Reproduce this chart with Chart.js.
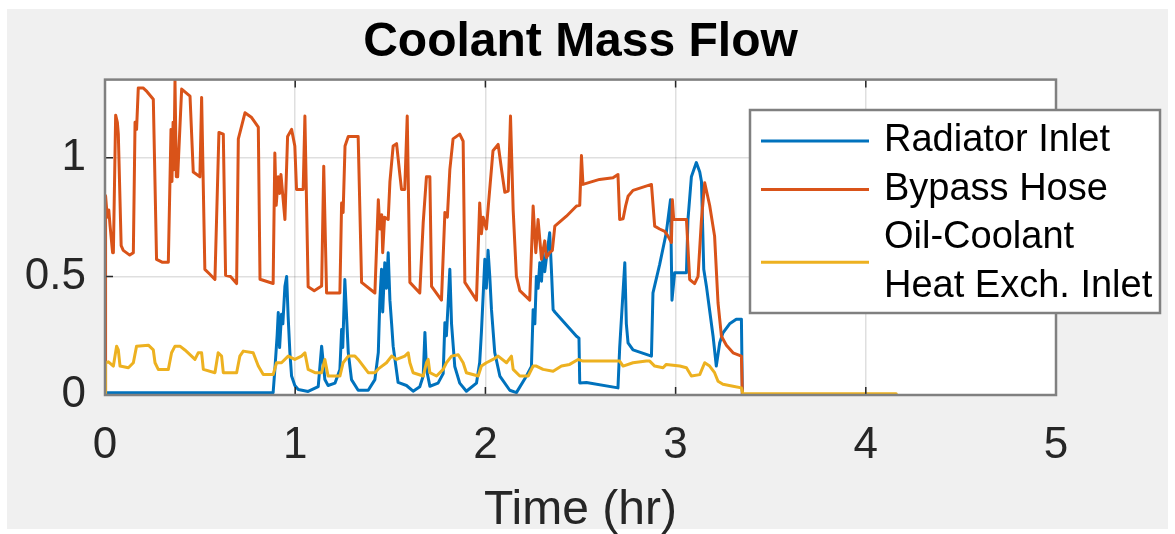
<!DOCTYPE html>
<html>
<head>
<meta charset="utf-8">
<title>Coolant Mass Flow</title>
<script src="https://cdn.jsdelivr.net/npm/chart.js@4.4.0/dist/chart.umd.min.js"></script>
<style>
  html, body { margin: 0; padding: 0; background: #fff; }
  #wrap { position: absolute; left: 0; top: 0; width: 1175px; height: 534px; }
</style>
</head>
<body>
<div id="wrap"><canvas id="flowChart"></canvas></div>
<script>
// series names (last one wraps over two lines in the legend)
const seriesNames = ['Radiator Inlet', 'Bypass Hose', 'Oil-Coolant\nHeat Exch. Inlet'];
const seriesColors = ['#0072BD', '#D95319', '#EDB120'];

// axis ticks
const xTicks = [0, 1, 2, 3, 4, 5];
const yTicks = [0, 0.5, 1];

// Radiator Inlet (time in hr, flow)
const radiatorTime = [0, 0.884, 0.893, 0.905, 0.911, 0.918, 0.928, 0.935, 0.946, 0.955, 0.963, 0.972, 0.981, 0.998, 1.016, 1.068,
  1.121, 1.139, 1.156, 1.173, 1.209, 1.235, 1.244, 1.25, 1.261, 1.279, 1.296, 1.331, 1.384, 1.419, 1.437, 1.445, 1.454, 1.46,
  1.471, 1.48, 1.489, 1.498, 1.507, 1.515, 1.541, 1.585, 1.62, 1.655, 1.673, 1.682, 1.69, 1.708, 1.751, 1.778, 1.787, 1.795,
  1.805, 1.813, 1.822, 1.839, 1.865, 1.9, 1.953, 1.97, 1.979, 1.99, 1.997, 2.005, 2.014, 2.023, 2.032, 2.049, 2.076, 2.128,
  2.163, 2.216, 2.242, 2.251, 2.26, 2.268, 2.277, 2.286, 2.295, 2.303, 2.312, 2.321, 2.338, 2.347, 2.356, 2.365, 2.479, 2.492,
  2.496, 2.531, 2.697, 2.706, 2.733, 2.741, 2.75, 2.776, 2.873, 2.881, 2.916, 2.951, 2.973, 2.981, 2.995, 3.057, 3.065, 3.083,
  3.109, 3.127, 3.136, 3.148, 3.162, 3.197, 3.214, 3.232, 3.249, 3.284, 3.319, 3.346, 3.351, 4.16];
const radiatorFlow = [0.01, 0.01, 0.107, 0.25, 0.348, 0.2, 0.34, 0.3, 0.459, 0.5, 0.33, 0.18, 0.08, 0.04, 0.023, 0.015,
  0.035, 0.206, 0.065, 0.04, 0.05, 0.107, 0.276, 0.2, 0.487, 0.18, 0.065, 0.02, 0.02, 0.065, 0.18, 0.4, 0.53, 0.35,
  0.558, 0.45, 0.6, 0.4, 0.3, 0.206, 0.053, 0.04, 0.016, 0.035, 0.08, 0.264, 0.11, 0.037, 0.05, 0.09, 0.305, 0.25,
  0.4, 0.53, 0.3, 0.12, 0.05, 0.016, 0.05, 0.137, 0.264, 0.45, 0.572, 0.45, 0.61, 0.5, 0.36, 0.18, 0.08, 0.02,
  0.01, 0.08, 0.12, 0.36, 0.3, 0.5, 0.45, 0.558, 0.48, 0.6, 0.52, 0.58, 0.684, 0.53, 0.36, 0.35, 0.248, 0.24,
  0.051, 0.053, 0.03, 0.2, 0.558, 0.3, 0.22, 0.19, 0.164, 0.431, 0.55, 0.684, 0.823, 0.4, 0.516, 0.516, 0.74, 0.92,
  0.98, 0.94, 0.9, 0.53, 0.459, 0.248, 0.122, 0.22, 0.262, 0.3, 0.319, 0.319, 0, 0];

// Bypass Hose
const bypassTime = [0, 0.003, 0.012, 0.02, 0.026, 0.04, 0.044, 0.056, 0.065, 0.07, 0.085, 0.096, 0.13, 0.149, 0.158, 0.166,
  0.175, 0.2, 0.22, 0.254, 0.271, 0.3, 0.333, 0.347, 0.352, 0.358, 0.362, 0.368, 0.375, 0.382, 0.403, 0.447, 0.464, 0.499,
  0.508, 0.525, 0.55, 0.578, 0.599, 0.622, 0.634, 0.66, 0.692, 0.701, 0.736, 0.771, 0.806, 0.815, 0.884, 0.893, 0.9, 0.911,
  0.918, 0.925, 0.946, 0.96, 0.981, 0.998, 1.007, 1.042, 1.051, 1.068, 1.1, 1.139, 1.15, 1.165, 1.235, 1.244, 1.252, 1.262,
  1.279, 1.331, 1.349, 1.419, 1.437, 1.445, 1.455, 1.46, 1.47, 1.489, 1.498, 1.515, 1.533, 1.55, 1.559, 1.576, 1.589, 1.603,
  1.655, 1.673, 1.69, 1.708, 1.717, 1.769, 1.787, 1.8, 1.813, 1.83, 1.865, 1.883, 1.892, 1.953, 1.97, 1.979, 1.988, 2.005,
  2.04, 2.067, 2.085, 2.102, 2.12, 2.132, 2.146, 2.163, 2.181, 2.233, 2.251, 2.265, 2.277, 2.295, 2.312, 2.321, 2.338, 2.352,
  2.365, 2.426, 2.479, 2.496, 2.505, 2.513, 2.6, 2.671, 2.697, 2.706, 2.724, 2.738, 2.75, 2.776, 2.873, 2.89, 2.916, 2.943,
  2.96, 2.978, 2.983, 2.99, 3.057, 3.074, 3.1, 3.118, 3.136, 3.153, 3.179, 3.205, 3.223, 3.241, 3.267, 3.302, 3.346, 3.351, 4.16];
const bypassFlow = [0, 0.84, 0.75, 0.78, 0.72, 0.6, 0.6, 1.18, 1.15, 1.1, 0.63, 0.61, 0.59, 0.6, 1.15, 1.12,
  1.295, 1.295, 1.28, 1.247, 0.572, 0.56, 0.56, 1.12, 0.9, 1.15, 0.95, 1.325, 0.92, 0.92, 1.29, 1.26, 0.94, 0.92,
  1.255, 0.53, 0.51, 0.487, 1.107, 1.1, 0.505, 0.5, 0.47, 1.08, 1.19, 1.17, 1.13, 0.488, 0.47, 1.02, 0.8, 0.92,
  0.85, 0.93, 0.74, 1.09, 1.12, 1.05, 0.867, 0.867, 1.176, 0.457, 0.44, 0.46, 0.965, 0.43, 0.43, 0.81, 0.77, 1.05,
  1.09, 1.09, 0.475, 0.43, 0.823, 0.7, 0.76, 0.6, 0.75, 0.74, 0.9, 1.05, 1.06, 0.93, 0.867, 0.867, 1.176, 0.475,
  0.43, 0.727, 0.92, 0.92, 0.458, 0.4, 0.77, 0.75, 0.95, 1.08, 1.1, 1.07, 0.475, 0.4, 0.81, 0.68, 0.75, 0.7,
  1.03, 1.057, 0.95, 0.855, 0.86, 1.176, 0.78, 0.5, 0.44, 0.4, 0.797, 0.6, 0.74, 0.572, 0.65, 0.58, 0.6, 0.61,
  0.712, 0.754, 0.797, 0.8, 1.01, 0.888, 0.909, 0.916, 0.93, 0.74, 0.743, 0.8, 0.838, 0.863, 0.888, 0.712, 0.7, 0.69,
  0.67, 0.643, 0.823, 0.74, 0.74, 0.487, 0.47, 0.5, 0.74, 0.895, 0.8, 0.67, 0.389, 0.248, 0.21, 0.178, 0.164, 0, 0];

// Oil-Coolant Heat Exch. Inlet
const oilTime = [0, 0.003, 0.018, 0.044, 0.061, 0.07, 0.079, 0.123, 0.149, 0.166, 0.228, 0.254, 0.263, 0.28, 0.333, 0.35,
  0.368, 0.394, 0.42, 0.455, 0.473, 0.49, 0.508, 0.517, 0.578, 0.595, 0.613, 0.622, 0.692, 0.709, 0.727, 0.779, 0.806, 0.832,
  0.884, 0.902, 0.928, 0.963, 0.998, 1.033, 1.051, 1.068, 1.104, 1.139, 1.156, 1.173, 1.235, 1.252, 1.279, 1.314, 1.331, 1.384,
  1.419, 1.437, 1.48, 1.507, 1.533, 1.576, 1.594, 1.603, 1.62, 1.673, 1.69, 1.699, 1.708, 1.743, 1.778, 1.795, 1.822, 1.857,
  1.883, 1.9, 1.962, 1.979, 2.005, 2.04, 2.067, 2.111, 2.137, 2.146, 2.181, 2.225, 2.251, 2.268, 2.303, 2.356, 2.4, 2.443,
  2.487, 2.513, 2.706, 2.724, 2.776, 2.846, 2.864, 2.89, 2.934, 2.951, 3.022, 3.057, 3.083, 3.127, 3.153, 3.179, 3.205, 3.223,
  3.249, 3.302, 3.346, 3.354, 4.16];
const oilFlow = [0, 0.136, 0.14, 0.122, 0.206, 0.19, 0.122, 0.115, 0.136, 0.206, 0.21, 0.19, 0.136, 0.108, 0.108, 0.178,
  0.206, 0.206, 0.19, 0.164, 0.15, 0.178, 0.178, 0.108, 0.094, 0.178, 0.164, 0.094, 0.094, 0.164, 0.185, 0.178, 0.122, 0.086,
  0.086, 0.136, 0.136, 0.164, 0.15, 0.164, 0.178, 0.108, 0.094, 0.094, 0.15, 0.08, 0.08, 0.136, 0.164, 0.164, 0.15, 0.094,
  0.094, 0.11, 0.136, 0.164, 0.15, 0.164, 0.178, 0.136, 0.094, 0.08, 0.136, 0.15, 0.094, 0.08, 0.108, 0.136, 0.164, 0.17,
  0.136, 0.094, 0.08, 0.122, 0.136, 0.15, 0.164, 0.136, 0.164, 0.108, 0.08, 0.08, 0.122, 0.122, 0.108, 0.1, 0.122, 0.129,
  0.15, 0.143, 0.143, 0.122, 0.136, 0.143, 0.143, 0.122, 0.115, 0.129, 0.122, 0.115, 0.08, 0.086, 0.136, 0.122, 0.094, 0.058,
  0.045, 0.037, 0.03, 0.005, 0.005];

function toPoints(times, values) {
    return times.map((t, i) => ({ x: t, y: values[i] }));
}

const axisColor = '#262626';
const fontFamily = '"Liberation Sans", Arial, Helvetica, sans-serif';

// gray figure background, white axes, box with inward ticks, legend
const matlabFrame = {
    id: 'matlabFrame',
    beforeDraw(chart) {
        const ctx = chart.ctx;
        const a = chart.chartArea;
        ctx.save();
        ctx.fillStyle = '#ffffff';
        ctx.fillRect(0, 0, chart.width, chart.height);
        ctx.fillStyle = '#f0f0f0';
        ctx.fillRect(7, 9, chart.width - 14, chart.height - 14);
        ctx.fillStyle = '#ffffff';
        ctx.fillRect(a.left, a.top, a.right - a.left, a.bottom - a.top);
        ctx.restore();
    },
    afterDatasetsDraw(chart) {
        const ctx = chart.ctx;
        const a = chart.chartArea;
        const xs = chart.scales.x, ys = chart.scales.y;
        ctx.save();
        // tick marks
        ctx.strokeStyle = axisColor;
        ctx.lineWidth = 1.5;
        ctx.beginPath();
        xTicks.forEach(v => {
            const px = xs.getPixelForValue(v);
            ctx.moveTo(px, a.bottom); ctx.lineTo(px, a.bottom - 8);
            ctx.moveTo(px, a.top); ctx.lineTo(px, a.top + 8);
        });
        yTicks.forEach(v => {
            const py = ys.getPixelForValue(v);
            ctx.moveTo(a.left, py); ctx.lineTo(a.left + 8, py);
            ctx.moveTo(a.right, py); ctx.lineTo(a.right - 8, py);
        });
        ctx.stroke();
        // axes box
        ctx.strokeStyle = '#808080';
        ctx.lineWidth = 2.5;
        ctx.strokeRect(a.left, a.top, a.right - a.left, a.bottom - a.top);

        // legend
        const box = { left: 750, top: 110, right: 1160, bottom: 313 };
        ctx.fillStyle = '#ffffff';
        ctx.fillRect(box.left, box.top, box.right - box.left, box.bottom - box.top);
        ctx.strokeRect(box.left, box.top, box.right - box.left, box.bottom - box.top);
        ctx.font = '38px ' + fontFamily;
        ctx.textBaseline = 'middle';
        ctx.textAlign = 'left';
        const rowH = 48.5;
        let y = box.top + 31;
        seriesNames.forEach((name, i) => {
            const lines = name.split('\n');
            const midY = y + (lines.length - 1) * rowH / 2;
            ctx.strokeStyle = seriesColors[i];
            ctx.lineWidth = 3;
            ctx.beginPath();
            ctx.moveTo(box.left + 11, midY);
            ctx.lineTo(box.left + 119, midY);
            ctx.stroke();
            ctx.fillStyle = '#000000';
            lines.forEach((ln, k) => ctx.fillText(ln, box.left + 134, y + k * rowH));
            y += lines.length * rowH;
        });
        ctx.restore();
    }
};

const ctx = document.getElementById('flowChart').getContext('2d');
const flowChart = new Chart(ctx, {
    type: 'line',
    data: {
        datasets: [
            { label: seriesNames[0], data: toPoints(radiatorTime, radiatorFlow), borderColor: seriesColors[0], order: 3 },
            { label: seriesNames[1], data: toPoints(bypassTime, bypassFlow), borderColor: seriesColors[1], order: 2 },
            { label: seriesNames[2], data: toPoints(oilTime, oilFlow), borderColor: seriesColors[2], order: 1 }
        ]
    },
    options: {
        responsive: true,
        maintainAspectRatio: false,
        animation: false,
        devicePixelRatio: 1,
        parsing: false,
        elements: {
            point: { radius: 0 },
            line: { borderWidth: 3, tension: 0, fill: false, borderJoinStyle: 'round', borderCapStyle: 'round' }
        },
        layout: { padding: { left: 0, right: 119, top: 14, bottom: 0 } },
        plugins: {
            legend: { display: false },
            tooltip: { enabled: false },
            title: {
                display: true,
                text: 'Coolant Mass Flow',
                fullSize: false,
                color: '#000000',
                font: { family: fontFamily, size: 48, weight: 'bold', lineHeight: 1.2 },
                padding: { top: 0, bottom: 8 }
            }
        },
        scales: {
            x: {
                type: 'linear',
                min: 0,
                max: 5,
                afterBuildTicks: s => { s.ticks = xTicks.map(v => ({ value: v })); },
                afterFit: s => { s.height = 139; },
                ticks: {
                    color: axisColor,
                    padding: 24,
                    maxRotation: 0,
                    font: { family: fontFamily, size: 44, lineHeight: 1.2 },
                    callback: v => String(v)
                },
                grid: { color: 'rgba(38,38,38,0.15)', lineWidth: 1.5, drawTicks: false },
                border: { display: false },
                title: {
                    display: true,
                    text: 'Time (hr)',
                    color: axisColor,
                    font: { family: fontFamily, size: 48, lineHeight: 1.2 },
                    padding: { top: 0, bottom: -6 }
                }
            },
            y: {
                type: 'linear',
                min: 0,
                max: 1.33,
                afterBuildTicks: s => { s.ticks = yTicks.map(v => ({ value: v })); },
                afterFit: s => { s.width = 105; },
                ticks: {
                    color: axisColor,
                    padding: 19,
                    font: { family: fontFamily, size: 44, lineHeight: 1.2 },
                    callback: v => String(v)
                },
                grid: { color: 'rgba(38,38,38,0.15)', lineWidth: 1.5, drawTicks: false },
                border: { display: false }
            }
        }
    },
    plugins: [matlabFrame]
});
</script>
</body>
</html>
